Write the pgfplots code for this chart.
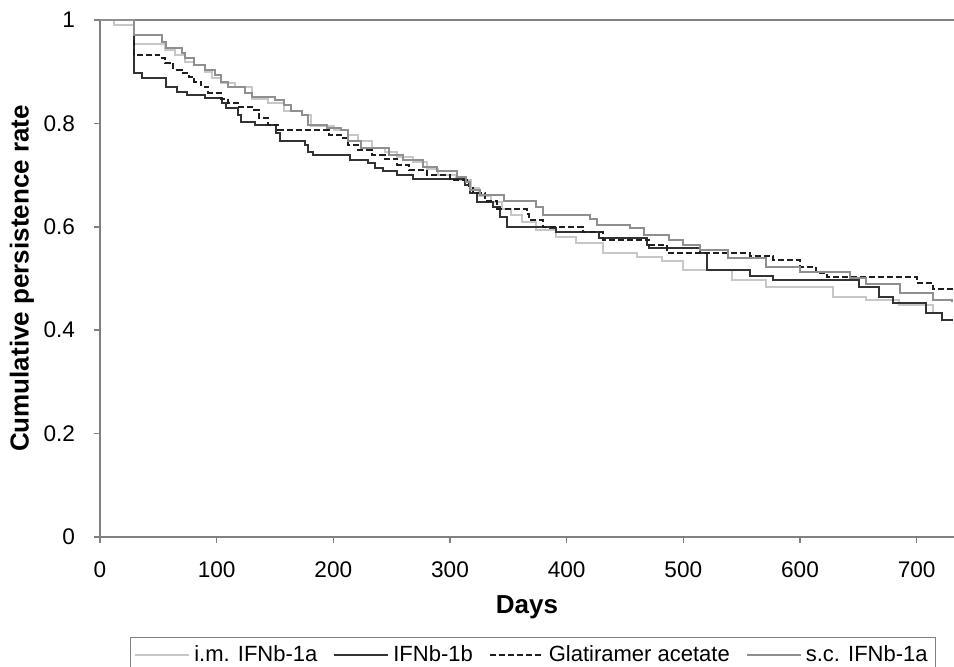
\documentclass[border=0pt]{standalone}
\usepackage{fontspec}
\setmainfont{Liberation Sans}
\usepackage{pgfplots}
\pgfplotsset{compat=1.18}
\definecolor{axgray}{gray}{0.5}
\definecolor{imcol}{gray}{0.78}
\definecolor{sccol}{gray}{0.56}
\definecolor{bcol}{gray}{0.2}
\definecolor{gacol}{gray}{0.12}
\begin{document}
\begin{tikzpicture}
\useasboundingbox (-50pt,-65pt) rectangle (427pt,268.5pt);
\begin{axis}[
  scale only axis, width=427pt, height=258.5pt,
  xmin=0, xmax=732, ymin=0, ymax=1,
  axis lines=left,
  axis line style={-, axgray, line width=1.4pt},
  every outer x axis line/.append style={-},
  every outer y axis line/.append style={-},
  extra y ticks={1}, extra y tick labels={},
  extra y tick style={grid=major, major grid style={axgray, line width=1.4pt}},
  xtick={0,100,...,700},
  ytick={0,0.2,0.4,0.6,0.8,1},
  tick align=outside, major tick length=3pt,
  tick style={axgray, line width=0.8pt},
  /pgf/number format/assume math mode=true,
  ticklabel style={font=\fontsize{11.3}{13}\selectfont},
  xticklabel style={yshift=-6pt},
  yticklabel style={xshift=-6pt},
  xlabel={\textbf{Days}},
  ylabel={\textbf{Cumulative persistence rate}},
  label style={font=\fontsize{13}{15}\selectfont},
  xlabel style={at={(0.5,0)}, anchor=center, yshift=-35pt},
  ylabel style={at={(0,0.5)}, anchor=center, rotate=0, yshift=39pt},
  legend columns=4,
  legend style={at={(0.507,-0.228)}, anchor=center, draw=axgray, line width=0.6pt,
    font=\fontsize{11}{13}\selectfont, inner sep=2pt,
    /tikz/every even column/.append style={column sep=6pt}},
  legend image code/.code={\draw[#1, line width=1pt] (0pt,0pt) -- (27pt,0pt);},
  every axis plot/.append style={line width=1pt, const plot},
]
% i.m. IFNb-1a
\addplot[imcol] coordinates {(0,1) (12,0.99) (29,0.953) (56,0.942) (64,0.932) (73,0.919) (81,0.913) (90,0.9) (96,0.887) (104,0.878) (116,0.871) (130,0.848) (144,0.839) (158,0.823) (173,0.816) (181,0.794) (201,0.787) (213,0.778) (221,0.765) (233,0.752) (244,0.745) (255,0.735) (268,0.725) (280,0.712) (290,0.70) (305,0.69) (318,0.675) (325,0.66) (335,0.648) (345,0.635) (352,0.622) (362,0.61) (374,0.594) (391,0.581) (408,0.568) (431,0.549) (460,0.542) (482,0.533) (500,0.516) (542,0.497) (571,0.484) (628,0.464) (657,0.458) (685,0.449) (714,0.433) (722,0.42) (730,0.42)};
\addlegendentry{i.m. IFNb-1a}
% IFNb-1b
\addplot[bcol] coordinates {(0,1) (29,0.897) (36,0.887) (57,0.871) (66,0.861) (75,0.855) (90,0.849) (105,0.839) (108,0.83) (118,0.816) (121,0.803) (133,0.797) (151,0.781) (154,0.765) (176,0.758) (178,0.745) (183,0.739) (214,0.729) (230,0.723) (236,0.714) (243,0.707) (255,0.70) (268,0.693) (313,0.68) (317,0.665) (323,0.648) (337,0.638) (343,0.619) (349,0.60) (386,0.597) (391,0.59) (428,0.578) (469,0.565) (471,0.559) (514,0.549) (520,0.516) (557,0.505) (577,0.497) (651,0.484) (668,0.464) (680,0.452) (708,0.433) (722,0.42) (730,0.418)};
\addlegendentry{IFNb-1b}
% Glatiramer acetate
\addplot[gacol, dash pattern=on 3pt off 1.5pt] coordinates {(0,1) (29,0.932) (51,0.926) (56,0.916) (63,0.903) (70,0.897) (76,0.89) (81,0.881) (87,0.871) (93,0.858) (104,0.848) (110,0.839) (118,0.832) (130,0.826) (136,0.81) (144,0.797) (153,0.787) (196,0.778) (207,0.771) (213,0.758) (221,0.749) (233,0.739) (244,0.732) (255,0.72) (265,0.71) (280,0.70) (300,0.69) (316,0.678) (320,0.665) (330,0.65) (340,0.635) (366,0.625) (368,0.613) (380,0.60) (414,0.59) (431,0.574) (471,0.565) (486,0.549) (557,0.543) (577,0.536) (600,0.523) (614,0.51) (623,0.503) (700,0.491) (714,0.48) (730,0.478)};
\addlegendentry{Glatiramer acetate}
% s.c. IFNb-1a
\addplot[sccol] coordinates {(0,1) (29,0.970) (53,0.958) (57,0.945) (70,0.936) (73,0.926) (81,0.913) (90,0.903) (99,0.894) (104,0.881) (110,0.871) (124,0.858) (130,0.852) (150,0.845) (158,0.836) (164,0.823) (173,0.816) (178,0.797) (195,0.791) (207,0.787) (213,0.765) (224,0.752) (248,0.739) (260,0.729) (277,0.716) (289,0.707) (306,0.697) (314,0.687) (317,0.671) (326,0.662) (346,0.649) (374,0.639) (380,0.623) (420,0.616) (426,0.603) (454,0.597) (466,0.584) (488,0.574) (500,0.565) (514,0.555) (538,0.54) (571,0.522) (600,0.513) (643,0.50) (657,0.49) (686,0.472) (714,0.458) (730,0.455)};
\addlegendentry{s.c. IFNb-1a}
\end{axis}
\end{tikzpicture}
\end{document}
